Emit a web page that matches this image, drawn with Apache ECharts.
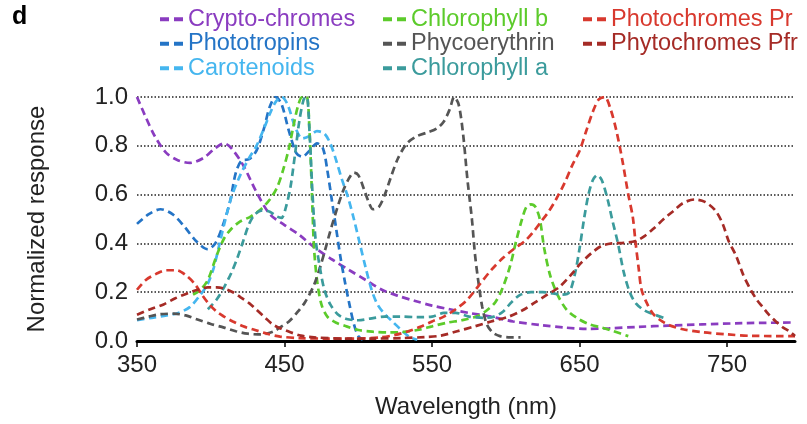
<!DOCTYPE html>
<html>
<head>
<meta charset="utf-8">
<script src="https://cdn.jsdelivr.net/npm/echarts@6/dist/echarts.min.js"></script>
<style>
  html, body { margin: 0; padding: 0; background: #fff; }
  #chart { width: 807px; height: 424px; }
</style>
</head>
<body>
<div id="chart"></div>
<script>
// Normalized absorption / action spectra of plant photoreceptors and pigments, [wavelength nm, response]
const cryptochromes = [[350,1.0],[355,0.93],[362,0.84],[370,0.77],[378,0.74],[386,0.73],[395,0.75],[403,0.79],[409,0.81],[414,0.79],[422,0.72],[431,0.61],[440,0.52],[450,0.475],[460,0.435],[470,0.385],[482,0.335],[494,0.29],[505,0.25],[516,0.21],[527,0.185],[538,0.165],[550,0.145],[562,0.13],[575,0.115],[590,0.1],[605,0.08],[624,0.065],[640,0.055],[655,0.05],[670,0.052],[690,0.058],[710,0.063],[733,0.068],[760,0.073],[795,0.076]];
const phototropins = [[350,0.48],[358,0.52],[366,0.54],[374,0.52],[382,0.47],[390,0.41],[398,0.376],[403,0.4],[408,0.47],[413,0.57],[417,0.69],[421,0.74],[426,0.745],[431,0.78],[436,0.87],[440,0.96],[444,1.0],[448,0.97],[453,0.86],[458,0.77],[462,0.755],[467,0.78],[472,0.81],[476,0.79],[479,0.7],[482,0.58],[485,0.46],[488,0.34],[491,0.24],[494,0.15],[497,0.07],[500,0.02],[503,0.005]];
const carotenoids = [[350,0.085],[360,0.095],[370,0.105],[378,0.115],[386,0.14],[393,0.19],[398,0.235],[402,0.3],[406,0.4],[410,0.5],[414,0.59],[420,0.68],[426,0.75],[431,0.8],[436,0.87],[440,0.93],[444,0.98],[448,1.0],[452,0.97],[457,0.88],[462,0.83],[467,0.84],[472,0.86],[477,0.85],[481,0.81],[485,0.74],[489,0.66],[493,0.59],[497,0.5],[501,0.4],[505,0.3],[509,0.21],[513,0.15],[518,0.11],[524,0.075],[530,0.04],[535,0.015],[540,0.005]];
const chlorophyllB = [[388,0.19],[393,0.21],[398,0.25],[404,0.35],[409,0.42],[414,0.46],[420,0.49],[427,0.51],[434,0.54],[440,0.58],[445,0.63],[449,0.7],[453,0.79],[456,0.88],[459,0.96],[462,1.0],[465,1.0],[467,0.85],[468,0.7],[469,0.53],[470,0.38],[472,0.25],[475,0.15],[479,0.1],[485,0.075],[492,0.06],[500,0.045],[510,0.038],[520,0.035],[530,0.037],[540,0.045],[550,0.06],[560,0.075],[570,0.085],[580,0.1],[587,0.125],[593,0.16],[598,0.22],[603,0.31],[607,0.41],[611,0.5],[614,0.55],[617,0.56],[620,0.55],[623,0.5],[626,0.38],[630,0.27],[635,0.19],[641,0.13],[648,0.095],[656,0.07],[665,0.055],[673,0.04],[683,0.02]];
const phycoerythrin = [[350,0.088],[358,0.1],[366,0.11],[375,0.112],[383,0.105],[391,0.088],[400,0.07],[409,0.055],[417,0.04],[425,0.03],[432,0.027],[438,0.03],[443,0.04],[448,0.06],[453,0.08],[459,0.12],[464,0.16],[470,0.23],[475,0.32],[481,0.45],[486,0.55],[490,0.62],[494,0.67],[497,0.69],[500,0.68],[504,0.62],[507,0.57],[510,0.54],[514,0.55],[518,0.6],[522,0.67],[527,0.75],[533,0.81],[540,0.84],[547,0.855],[553,0.87],[558,0.9],[562,0.95],[565,1.0],[568,0.97],[571,0.85],[574,0.66],[577,0.5],[579,0.36],[581,0.26],[584,0.14],[587,0.07],[591,0.035],[596,0.02],[603,0.015],[610,0.015]];
const chlorophyllA = [[398,0.13],[404,0.17],[409,0.22],[414,0.28],[418,0.34],[422,0.41],[426,0.48],[430,0.52],[435,0.535],[440,0.53],[445,0.51],[448,0.505],[451,0.55],[454,0.63],[457,0.76],[460,0.9],[463,0.99],[465,1.0],[467,0.85],[469,0.6],[471,0.42],[474,0.3],[477,0.21],[481,0.15],[486,0.11],[492,0.09],[500,0.085],[508,0.092],[518,0.1],[528,0.1],[540,0.098],[550,0.1],[558,0.115],[566,0.115],[575,0.1],[585,0.095],[592,0.1],[598,0.12],[604,0.16],[610,0.19],[617,0.2],[625,0.2],[632,0.195],[638,0.19],[643,0.2],[647,0.28],[650,0.38],[653,0.5],[656,0.6],[659,0.66],[662,0.68],[665,0.66],[669,0.58],[672,0.5],[676,0.4],[680,0.28],[684,0.2],[688,0.155],[694,0.125],[700,0.11],[707,0.095]];
const photochromesPr = [[350,0.21],[356,0.25],[363,0.275],[370,0.29],[377,0.29],[383,0.27],[389,0.235],[394,0.19],[399,0.15],[404,0.12],[409,0.1],[415,0.08],[422,0.06],[430,0.045],[438,0.03],[447,0.018],[460,0.012],[480,0.01],[500,0.01],[515,0.015],[525,0.025],[534,0.04],[542,0.058],[550,0.08],[558,0.1],[566,0.13],[574,0.17],[582,0.23],[590,0.29],[598,0.34],[606,0.38],[613,0.41],[619,0.45],[624,0.49],[629,0.53],[634,0.58],[640,0.65],[645,0.72],[650,0.78],[655,0.87],[659,0.94],[663,0.99],[667,1.0],[671,0.95],[675,0.86],[679,0.74],[683,0.6],[686,0.51],[688,0.4],[690,0.3],[692,0.21],[696,0.15],[700,0.11],[706,0.08],[712,0.062],[720,0.048],[733,0.036],[750,0.027],[767,0.021],[796,0.02]];
const phytochromesPfr = [[350,0.108],[359,0.13],[368,0.15],[376,0.175],[384,0.195],[391,0.21],[398,0.22],[404,0.22],[409,0.215],[415,0.2],[420,0.18],[426,0.155],[431,0.128],[437,0.095],[442,0.068],[448,0.05],[454,0.036],[461,0.022],[470,0.015],[490,0.01],[510,0.01],[530,0.012],[545,0.016],[556,0.022],[567,0.04],[579,0.06],[590,0.08],[602,0.1],[611,0.125],[619,0.155],[628,0.19],[636,0.22],[644,0.27],[651,0.32],[658,0.36],[665,0.39],[672,0.4],[680,0.402],[688,0.41],[694,0.43],[700,0.46],[707,0.5],[713,0.53],[720,0.565],[728,0.58],[735,0.57],[742,0.535],[747,0.48],[751,0.41],[756,0.35],[761,0.27],[766,0.21],[770,0.17],[774,0.14],[778,0.11],[783,0.08],[788,0.055],[792,0.04],[796,0.02]];

const xTicks = [350, 450, 550, 650, 750];
const seriesNames = ['Crypto-chromes', 'Phototropins', 'Carotenoids', 'Chlorophyll b', 'Phycoerythrin', 'Chlorophyll a', 'Photochromes Pr', 'Phytochromes Pfr'];
const seriesData = [cryptochromes, phototropins, carotenoids, chlorophyllB, phycoerythrin, chlorophyllA, photochromesPr, phytochromesPfr];
const seriesColors = ['#8a3cc0', '#2474c6', '#45b6ef', '#5ccb2b', '#555555', '#3b9b9c', '#d8392e', '#a52b26'];
const legendColumns = [[0, 1, 2], [3, 4, 5], [6, 7]];
const legendLeft = [155, 378, 578];

const FONT = '"Liberation Sans", Arial, sans-serif';
const chart = echarts.init(document.getElementById('chart'), null, { renderer: 'canvas' });

const dashIcon = 'path://M0,0h9v4h-9z M14,0h9v4h-9z';

chart.setOption({
  animation: false,
  backgroundColor: '#ffffff',
  textStyle: { fontFamily: FONT },
  grid: { left: 137, right: 12, top: 97, bottom: 77, containLabel: false },
  graphic: [{
    type: 'text', left: 12, top: 5,
    style: { text: 'd', font: 'bold 25px ' + FONT, fill: '#000' }
  }],
  legend: legendColumns.map((col, i) => ({
    orient: 'vertical',
    left: legendLeft[i],
    top: 2,
    itemGap: 0,
    itemWidth: 23,
    itemHeight: 4,
    icon: dashIcon,
    selectedMode: false,
    data: col.map(k => ({
      name: seriesNames[k],
      textStyle: { color: seriesColors[k] }
    })),
    textStyle: { fontSize: 23.5, fontFamily: FONT, lineHeight: 24.5, padding: [0, 0, 0, 0] }
  })),
  xAxis: {
    type: 'value',
    min: 350,
    max: 796,
    interval: 100,
    name: 'Wavelength (nm)',
    nameLocation: 'middle',
    nameGap: 54,
    nameTextStyle: { fontSize: 24, color: '#222', fontFamily: FONT },
    axisLine: { show: true, onZero: false, lineStyle: { color: '#000', width: 3 } },
    axisTick: { show: true, length: 6, customValues: xTicks, lineStyle: { color: '#000', width: 1.5 } },
    axisLabel: { customValues: xTicks, fontSize: 24, color: '#222', margin: 12, fontFamily: FONT },
    splitLine: { show: false }
  },
  yAxis: {
    type: 'value',
    min: 0,
    max: 1,
    interval: 0.2,
    name: 'Normalized response',
    nameLocation: 'middle',
    nameGap: 88,
    nameRotate: 90,
    nameTextStyle: { fontSize: 24, color: '#222', fontFamily: FONT },
    axisLine: { show: false },
    axisTick: { show: false },
    axisLabel: { fontSize: 24, color: '#222', margin: 9, fontFamily: FONT, formatter: v => v.toFixed(1) },
    splitLine: { show: true, lineStyle: { color: '#222', width: 1.5, type: [1.5, 2] } }
  },
  series: seriesNames.map((name, k) => ({
    name,
    type: 'line',
    data: seriesData[k],
    showSymbol: false,
    smooth: 0.3,
    clip: true,
    itemStyle: { color: seriesColors[k] },
    lineStyle: { color: seriesColors[k], width: 2.7, type: [7.5, 4.5] },
    z: 3
  }))
});
</script>
</body>
</html>
